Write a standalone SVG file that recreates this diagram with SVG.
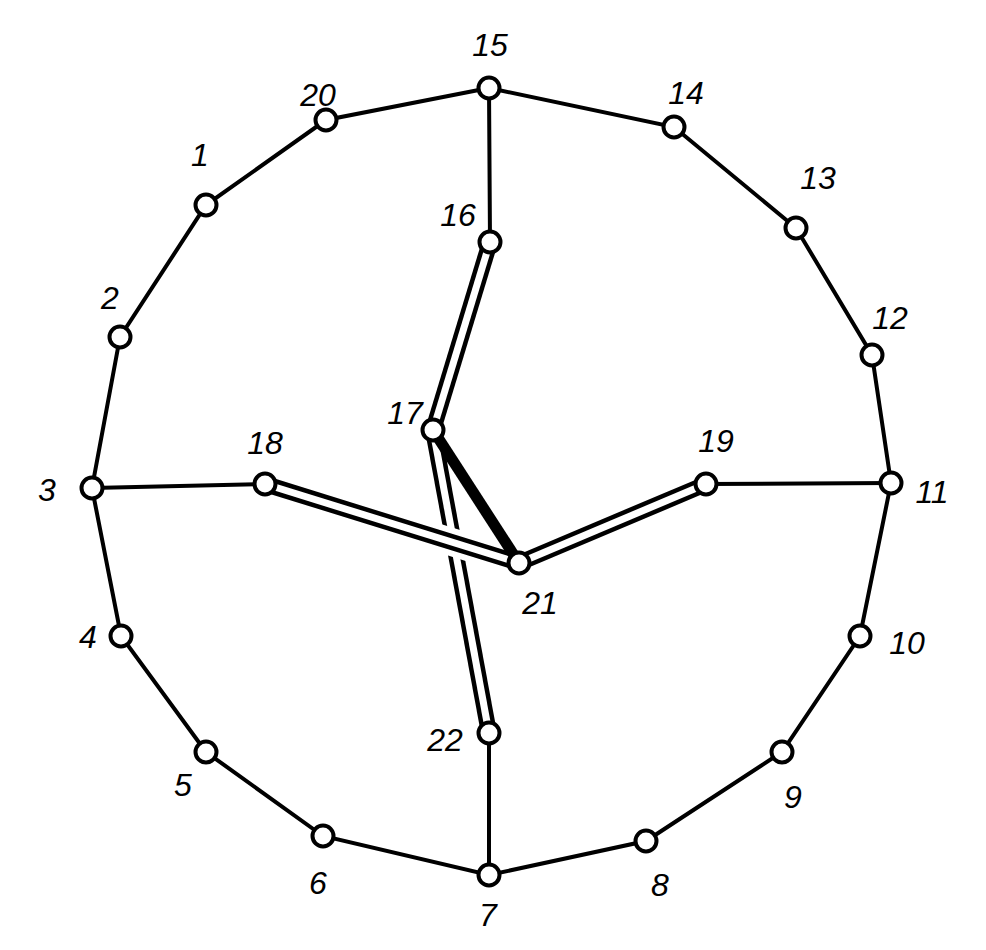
<svg xmlns="http://www.w3.org/2000/svg" width="986" height="950" viewBox="0 0 986 950">
<style>
.ln{stroke:#000;stroke-width:4;fill:none;stroke-linecap:round}
.dbo{stroke:#000;stroke-width:16;fill:none}
.dbi{stroke:#fff;stroke-width:7;fill:none}
.halo{stroke:#fff;stroke-width:28;fill:none}
.thick{stroke:#000;stroke-width:11;fill:none}
.nd{fill:#fff;stroke:#000;stroke-width:4}
text{font-family:"Liberation Sans",Arial,sans-serif;font-style:italic;font-size:32px;fill:#000;text-anchor:middle}
</style>
<rect width="986" height="950" fill="#fff"/>
<g id="connectors">
<polyline class="ln" points="489,88 674,127 796,228 872,355 891,483 860,636 782,752 646,841 489,875 323,836 206,752 121,636 92,488 120,337 206,205 326,120 489,88"/>
<line class="ln" x1="489" y1="88" x2="490" y2="242"/>
<line class="ln" x1="92" y1="488" x2="265" y2="484"/>
<line class="ln" x1="706" y1="484" x2="891" y2="483"/>
<line class="ln" x1="489" y1="733" x2="489" y2="875"/>
<line class="dbo" x1="490" y1="242" x2="433" y2="430"/>
<line class="dbi" x1="490" y1="242" x2="433" y2="430"/>
<line class="dbo" x1="433" y1="430" x2="489" y2="733"/>
<line class="dbi" x1="433" y1="430" x2="489" y2="733"/>
<line class="halo" x1="265" y1="484" x2="519" y2="563"/>
<line class="dbo" x1="265" y1="484" x2="519" y2="563"/>
<line class="dbi" x1="265" y1="484" x2="519" y2="563"/>
<line class="dbo" x1="706" y1="484" x2="519" y2="563"/>
<line class="dbi" x1="706" y1="484" x2="519" y2="563"/>
<line class="thick" x1="433" y1="430" x2="519" y2="563"/>
</g>
<g id="n15"><circle class="nd" cx="489" cy="88" r="10.5"/><text x="490" y="56">15</text></g>
<g id="n14"><circle class="nd" cx="674" cy="127" r="10.5"/><text x="686" y="104">14</text></g>
<g id="n13"><circle class="nd" cx="796" cy="228" r="10.5"/><text x="818" y="189">13</text></g>
<g id="n12"><circle class="nd" cx="872" cy="355" r="10.5"/><text x="890" y="329">12</text></g>
<g id="n11"><circle class="nd" cx="891" cy="483" r="10.5"/><text x="932" y="503">11</text></g>
<g id="n10"><circle class="nd" cx="860" cy="636" r="10.5"/><text x="907" y="654">10</text></g>
<g id="n9"><circle class="nd" cx="782" cy="752" r="10.5"/><text x="793" y="808">9</text></g>
<g id="n8"><circle class="nd" cx="646" cy="841" r="10.5"/><text x="660" y="896">8</text></g>
<g id="n7"><circle class="nd" cx="489" cy="875" r="10.5"/><text x="488" y="926">7</text></g>
<g id="n6"><circle class="nd" cx="323" cy="836" r="10.5"/><text x="318" y="894">6</text></g>
<g id="n5"><circle class="nd" cx="206" cy="752" r="10.5"/><text x="183" y="796">5</text></g>
<g id="n4"><circle class="nd" cx="121" cy="636" r="10.5"/><text x="88" y="648">4</text></g>
<g id="n3"><circle class="nd" cx="92" cy="488" r="10.5"/><text x="47" y="501">3</text></g>
<g id="n2"><circle class="nd" cx="120" cy="337" r="10.5"/><text x="110" y="309">2</text></g>
<g id="n1"><circle class="nd" cx="206" cy="205" r="10.5"/><text x="200" y="166">1</text></g>
<g id="n20"><circle class="nd" cx="326" cy="120" r="10.5"/><text x="318" y="106">20</text></g>
<g id="n16"><circle class="nd" cx="490" cy="242" r="10.5"/><text x="458" y="226">16</text></g>
<g id="n17"><circle class="nd" cx="433" cy="430" r="10.5"/><text x="405" y="424">17</text></g>
<g id="n18"><circle class="nd" cx="265" cy="484" r="10.5"/><text x="265" y="454">18</text></g>
<g id="n19"><circle class="nd" cx="706" cy="484" r="10.5"/><text x="716" y="452">19</text></g>
<g id="n21"><circle class="nd" cx="519" cy="563" r="10.5"/><text x="540" y="614">21</text></g>
<g id="n22"><circle class="nd" cx="489" cy="733" r="10.5"/><text x="445" y="751">22</text></g>
</svg>
